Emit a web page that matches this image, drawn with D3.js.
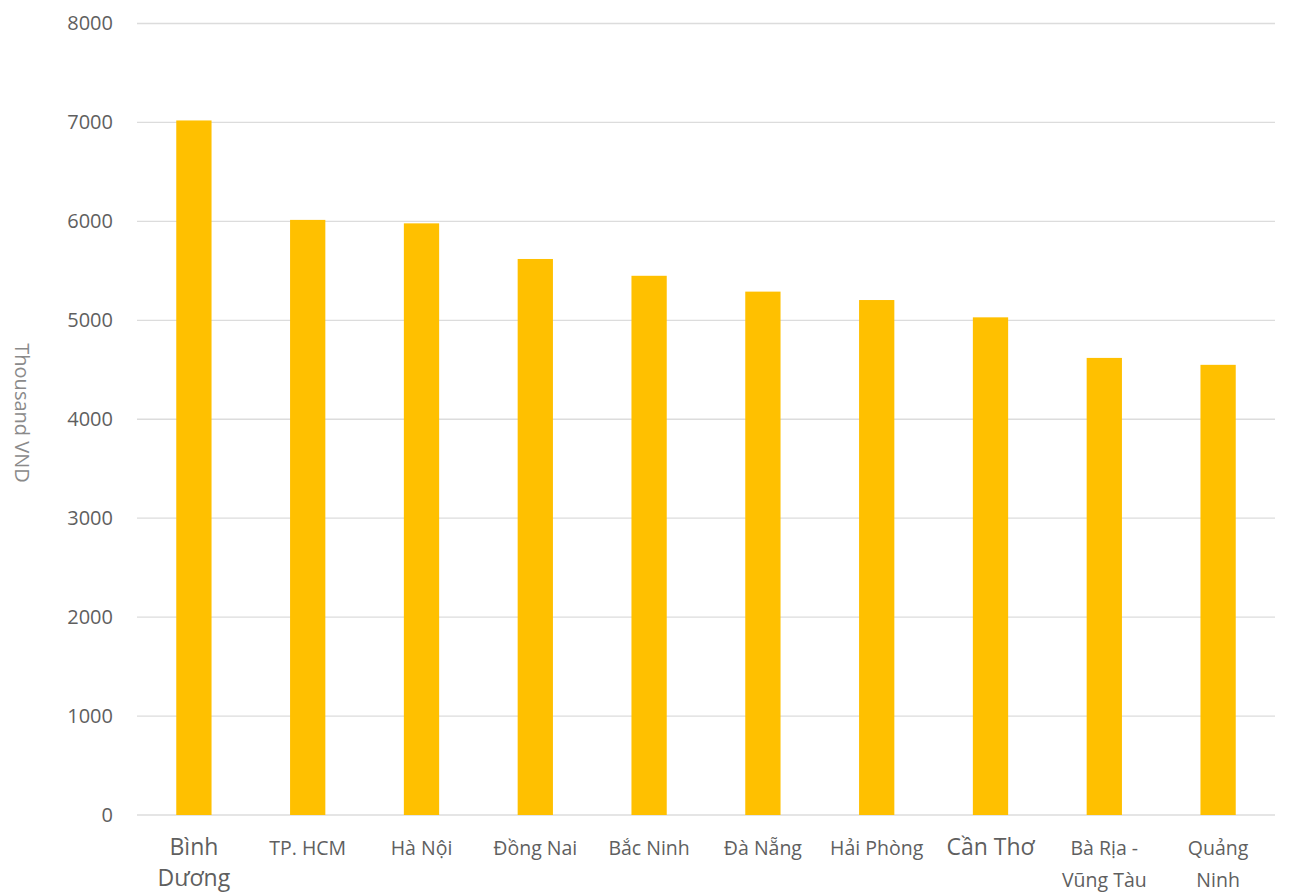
<!DOCTYPE html>
<html>
<head>
<meta charset="utf-8">
<script src="https://cdn.jsdelivr.net/npm/d3@7"></script>
<style>
  html, body { margin: 0; padding: 0; background: #fff; }
  svg text { font-family: "Open Sans", "Lato", sans-serif; }
</style>
</head>
<body>
<svg id="chart" width="1299" height="894"></svg>
<script>
// Provinces (label lines) and average monthly income, thousand VND
const provinces = [
  ["Bình", "Dương"],
  ["TP. HCM"],
  ["Hà Nội"],
  ["Đồng Nai"],
  ["Bắc Ninh"],
  ["Đà Nẵng"],
  ["Hải Phòng"],
  ["Cần Thơ"],
  ["Bà Rịa -", "Vũng Tàu"],
  ["Quảng", "Ninh"]
];
const income = [7020, 6015, 5980, 5620, 5450, 5290, 5205, 5030, 4620, 4550];
const yTicks = [0, 1000, 2000, 3000, 4000, 5000, 6000, 7000, 8000];
const yTitle = "Thousand VND";

// two categories are labelled in a larger type
const bigLabels = [0, 7];

const svg = d3.select("#chart");
const margin = { left: 137, right: 24, top: 23.5, bottom: 79 };
const W = 1299, H = 894;

const keys = provinces.map((p, i) => i);
const x = d3.scaleBand()
  .domain(keys)
  .range([margin.left, W - margin.right])
  .paddingInner(0.69)
  .paddingOuter(0.345);

const y = d3.scaleLinear()
  .domain([0, 8000])
  .range([H - margin.bottom, margin.top]);

// horizontal gridlines
svg.append("g")
  .selectAll("line")
  .data(yTicks)
  .join("line")
  .attr("x1", margin.left)
  .attr("x2", W - margin.right)
  .attr("y1", d => y(d))
  .attr("y2", d => y(d))
  .attr("stroke", "#dcdcdc")
  .attr("stroke-width", 1.3);

// y tick labels
const yAxis = d3.axisLeft(y)
  .tickValues(yTicks)
  .tickFormat(d3.format("d"))
  .tickSize(0)
  .tickPadding(0);
const gy = svg.append("g")
  .attr("transform", `translate(${margin.left - 24},0)`)
  .call(yAxis);
gy.select(".domain").remove();
gy.selectAll("text")
  .attr("fill", "#5f5f5f")
  .attr("font-size", 20)
  .style("font-family", "'Open Sans', sans-serif");

// y axis title
svg.append("text")
  .attr("transform", `translate(15,413) rotate(90)`)
  .attr("text-anchor", "middle")
  .attr("fill", "#8a8a8a")
  .attr("font-size", 20)
  .text(yTitle);

// bars
svg.append("g")
  .selectAll("rect")
  .data(income)
  .join("rect")
  .attr("x", (d, i) => x(i))
  .attr("width", x.bandwidth())
  .attr("y", d => y(d))
  .attr("height", d => y(0) - y(d))
  .attr("fill", "#FFC000");

// category labels
const xAxis = d3.axisBottom(x).tickSize(0).tickFormat(() => "");
const gx = svg.append("g")
  .attr("transform", `translate(0,${y(0)})`)
  .call(xAxis);
gx.select(".domain").remove();

gx.selectAll(".tick").each(function (i) {
  const t = d3.select(this);
  const big = bigLabels.includes(i);
  const txt = t.append("text")
    .attr("text-anchor", "middle")
    .attr("fill", "#5f5f5f")
    .attr("font-size", big ? 23 : 19.5)
    .attr("y", big ? 40 : 40);
  provinces[i].forEach((line, k) => {
    txt.append("tspan")
      .attr("x", 0)
      .attr("dy", k === 0 ? 0 : (big ? 31 : 32))
      .text(line);
  });
});
</script>
</body>
</html>
